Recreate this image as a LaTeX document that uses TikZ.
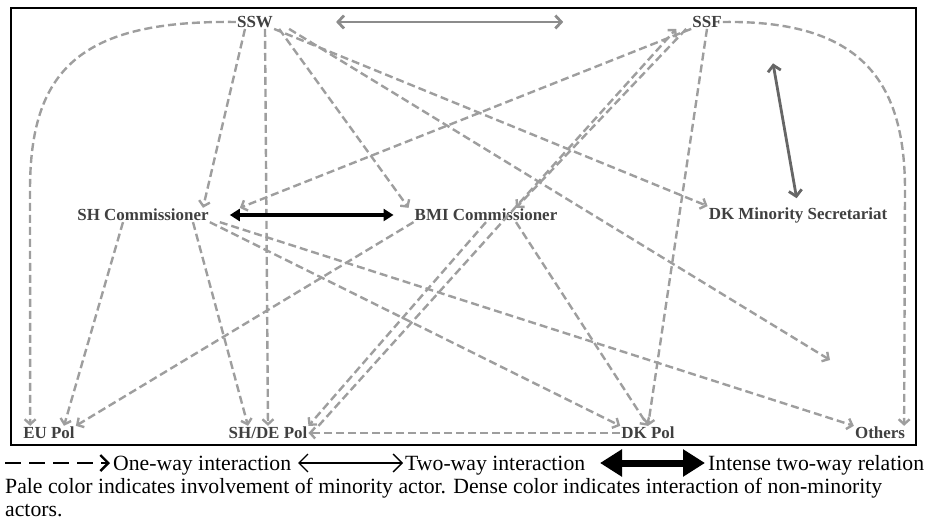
\documentclass[tikz,border=0pt]{standalone}
\usepackage{fontspec}
\setmainfont{Liberation Serif}
\usetikzlibrary{arrows.meta}
\begin{document}
\begin{tikzpicture}[x=1bp,y=-1bp,
  lbl/.style={font=\fontsize{17}{20}\selectfont\bfseries, text=black!75, inner sep=1bp},
  legtxt/.style={font=\fontsize{21.8}{25}\selectfont, anchor=base west, inner sep=0pt},
  pale/.style={draw=black!38, line width=2.4bp, dash pattern=on 8bp off 4bp, -{Straight Barb[length=5bp,width=11bp]}},
  dense/.style={pale, draw=black!70},
  twogray/.style={draw=black!45, line width=2.8bp, {Straight Barb[length=6bp,width=13bp]}-{Straight Barb[length=6bp,width=13bp]}},
  intense/.style={draw=black, line width=3.5bp, {Triangle[length=10bp,width=12bp]}-{Triangle[length=10bp,width=12bp]}}
]
\useasboundingbox (0,0) rectangle (926,521);
\draw[line width=1.6bp] (11,8) rectangle (916,445);

\node[lbl] (ssw) at (255,22) {SSW};
\node[lbl] (ssf) at (707,22) {SSF};
\node[lbl] (shc) at (143,215) {SH Commissioner};
\node[lbl] (bmi) at (486,215) {BMI Commissioner};
\node[lbl] (dks) at (798,215) {DK Minority Secretariat};
\node[lbl] (eup) at (49,433) {EU Pol};
\node[lbl] (dep) at (268,433) {SH/DE Pol};
\node[lbl] (dkp) at (648,433) {DK Pol};
\node[lbl] (oth) at (880,433) {Others};
\coordinate (othx) at (830,360);

% top two-way
\draw[twogray, shorten <=62bp, shorten >=128bp] (ssw.east) -- (ssf.west);
% curves
\draw[pale] (ssw.west) .. controls (80,20) and (30,70) .. (30,190) -- ([xshift=8bp]eup.north west);
\draw[pale] (ssf.east) .. controls (860,20) and (905,80) .. (905,190) -- ([xshift=-2bp]oth.north east);
% from SSW
\draw[pale] ([xshift=-10bp]ssw.south) -- ([xshift=60bp]shc.north);
\draw[pale] ([xshift=10bp]ssw.south) -- (dep.north);
\draw[pale] (ssw.south east) -- (dks.north west);
\draw[pale] ([xshift=15bp]ssw.south east) -- (othx);
\draw[pale] ([xshift=5bp]ssw.south east) -- ([xshift=-5bp]bmi.north west);
% from SSF
\draw[pale] (ssf.south west) -- ([xshift=30bp]shc.north east);
\draw[pale] ([xshift=-5bp]ssf.south west) -- ([xshift=30bp]bmi.north);
\draw[pale] (ssf.south) -- (dkp.north);
\draw[twogray, draw=black!60, shorten <=35bp, shorten >=8bp] ([xshift=60bp]ssf.south) -- (dks.north);
% SH <-> BMI
\draw[intense, shorten <=20bp, shorten >=20bp] (shc.east) -- (bmi.west);
% from SH
\draw[pale] ([xshift=-20bp]shc.south) -- ([xshift=15bp]eup.north);
\draw[pale] ([xshift=50bp]shc.south) -- ([xshift=-20bp]dep.north);
\draw[pale] (shc.south east) -- (dkp.north west);
\draw[pale] ([xshift=10bp]shc.south east) -- (oth.north west);
% from BMI
\draw[pale] (bmi.south west) -- (eup.north east);
\draw[pale] (bmi.south) -- (dep.north east);
\draw[pale] ([xshift=30bp]bmi.south) -- (dkp.north);
% bottom
\draw[pale] (dkp.west) -- (dep.east);
\draw[pale] ([xshift=10bp]dep.north east) -- ([xshift=-15bp]ssf.south west);

% legend
\coordinate (l1a) at (5,463); \coordinate (l1b) at (110,463);
\draw[line width=2.4bp, dash pattern=on 16bp off 8bp, -{Straight Barb[length=8bp,width=16bp,line width=2.4bp]}] (l1a) -- (l1b);
\node[legtxt] (t1) at (113,470) {One-way interaction};
\coordinate (l2a) at (298,463); \coordinate (l2b) at (403,463);
\draw[line width=1.4bp, {Straight Barb[length=9bp,width=18bp]}-{Straight Barb[length=9bp,width=18bp]}] (l2a) -- (l2b);
\node[legtxt] (t2) at (405,470) {Two-way interaction};
\coordinate (l3a) at (600,463); \coordinate (l3b) at (705,463);
\draw[line width=7bp, {Triangle[length=22bp,width=26bp]}-{Triangle[length=22bp,width=26bp]}] (l3a) -- (l3b);
\node[legtxt] (t3) at (708,470) {Intense two-way relation};
\node[legtxt] (t4) at (5,493) {Pale color indicates involvement of minority actor. Dense color indicates interaction of non-minority};
\node[legtxt] (t5) at (5,516) {actors.};
\end{tikzpicture}
\end{document}
